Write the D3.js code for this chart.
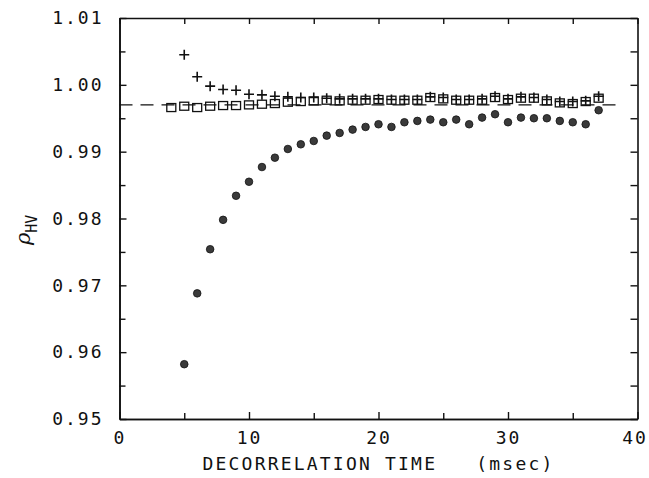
<!DOCTYPE html>
<html>
<head>
<meta charset="utf-8">
<script src="https://cdn.jsdelivr.net/npm/d3@7"></script>
<style>
  body { margin: 0; background: #fff; }
  text { font-family: "DejaVu Sans Mono", monospace; fill: #111; }
  .tick-label { font-size: 18px; letter-spacing: 2px; }
  .axis-title { font-size: 18px; letter-spacing: 2.2px; white-space: pre; }
  .axis path, .axis line { stroke: #111; }
</style>
</head>
<body>
<div id="chart"></div>
<script>
// decorrelation time (msec) for each series
const squareTimes = d3.range(4, 38);
const plusTimes = d3.range(5, 38);
const circleTimes = d3.range(5, 38);

// correlation coefficient values
const squareValues = [
  0.9966, 0.9968, 0.9966, 0.9968, 0.9969, 0.9969, 0.9970, 0.9971, 0.9972, 0.9974,
  0.9975, 0.9976, 0.9977, 0.9976, 0.9977, 0.9977, 0.9978, 0.9977, 0.9977, 0.9977,
  0.9981, 0.9979, 0.9977, 0.9977, 0.9977, 0.9981, 0.9978, 0.9980, 0.9980, 0.9976,
  0.9973, 0.9972, 0.9975, 0.9980
];
const plusValues = [
  1.0045, 1.0012, 0.9998, 0.9993, 0.9992, 0.9986, 0.9985, 0.9983, 0.9982, 0.9981,
  0.9981, 0.9980, 0.9979, 0.9979, 0.9979, 0.9979, 0.9978, 0.9978, 0.9978, 0.9982,
  0.9981, 0.9978, 0.9978, 0.9979, 0.9983, 0.9979, 0.9982, 0.9981, 0.9978, 0.9975,
  0.9975, 0.9976, 0.9983
];
const circleValues = [
  0.9582, 0.9688, 0.9754, 0.9798, 0.9834, 0.9855, 0.9877, 0.9891, 0.9904, 0.9911,
  0.9916, 0.9924, 0.9928, 0.9933, 0.9937, 0.9941, 0.9937, 0.9944, 0.9946, 0.9948,
  0.9944, 0.9948, 0.9941, 0.9951, 0.9956, 0.9944, 0.9951, 0.9950, 0.9950, 0.9946,
  0.9944, 0.9941, 0.9962
];

// dashed reference level
const refLevel = 0.997;
const refSpan = [0, 38.5];

const xMajorTicks = [0, 10, 20, 30, 40];
const xMinorTicks = [5, 15, 25, 35];
const yMajorTicks = [0.95, 0.96, 0.97, 0.98, 0.99, 1.00, 1.01];
const yMinorTicks = [0.955, 0.965, 0.975, 0.985, 0.995, 1.005];

class CorrPlot {
  constructor(_config) {
    this.config = {
      parentElement: _config.parentElement,
      containerWidth: 649,
      containerHeight: 478,
      margin: {top: 18, right: 11.5, bottom: 59, left: 119.5}
    };
    this.initVis();
  }

  initVis() {
    let vis = this;
    vis.width = vis.config.containerWidth - vis.config.margin.left - vis.config.margin.right;
    vis.height = vis.config.containerHeight - vis.config.margin.top - vis.config.margin.bottom;

    vis.xScale = d3.scaleLinear().domain([0, 40]).range([0, vis.width]);
    vis.yScale = d3.scaleLinear().domain([0.95, 1.01]).range([vis.height, 0]);

    vis.svg = d3.select(vis.config.parentElement).append('svg')
        .attr('width', vis.config.containerWidth)
        .attr('height', vis.config.containerHeight);

    vis.chart = vis.svg.append('g')
        .attr('transform', `translate(${vis.config.margin.left},${vis.config.margin.top})`);

    vis.renderAxes();
    vis.renderVis();
  }

  renderAxes() {
    let vis = this;
    const h = vis.height, w = vis.width;

    // ticks point inward on all four sides
    const styleAxis = g => {
      g.attr('class', 'axis');
      g.select('.domain').attr('stroke-width', 1.6);
      g.selectAll('.tick line').attr('stroke-width', 1.4);
      g.selectAll('.tick text').attr('class', 'tick-label');
    };

    vis.chart.append('g').attr('transform', `translate(0,${h})`)
        .call(d3.axisBottom(vis.xScale).tickValues(xMajorTicks).tickSize(-7).tickPadding(12)
          .tickFormat(d3.format('d')).tickSizeOuter(0))
        .call(styleAxis)
        .selectAll('.tick text').filter(d => d === 40).attr('dx', -3);
    vis.chart.append('g').attr('transform', `translate(0,${h})`)
        .call(d3.axisBottom(vis.xScale).tickValues(xMinorTicks).tickSize(-6).tickFormat('').tickSizeOuter(0))
        .call(styleAxis);
    vis.chart.append('g')
        .call(d3.axisTop(vis.xScale).tickValues(xMajorTicks.concat(xMinorTicks)).tickSize(-6).tickFormat('').tickSizeOuter(0))
        .call(styleAxis);

    vis.chart.append('g')
        .call(d3.axisLeft(vis.yScale).tickValues(yMajorTicks).tickSize(-7).tickPadding(16)
          .tickFormat(d3.format('.2f')).tickSizeOuter(0))
        .call(styleAxis);
    vis.chart.append('g')
        .call(d3.axisLeft(vis.yScale).tickValues(yMinorTicks).tickSize(-6).tickFormat('').tickSizeOuter(0))
        .call(styleAxis);
    vis.chart.append('g').attr('transform', `translate(${w},0)`)
        .call(d3.axisRight(vis.yScale).tickValues(yMajorTicks.concat(yMinorTicks)).tickSize(-7).tickFormat('').tickSizeOuter(0))
        .call(styleAxis);

    vis.chart.selectAll('.tick-label').attr('font-size', 18);

    // x axis title
    vis.chart.append('text')
        .attr('class', 'axis-title')
        .attr('x', w / 2)
        .attr('y', h + 51)
        .attr('text-anchor', 'middle')
        .text('DECORRELATION TIME   (msec)');

    // y axis title: italic rho with HV subscript
    const yt = vis.svg.append('text')
        .attr('transform', `translate(30,${vis.config.margin.top + vis.yScale(0.9783)}) rotate(-90)`)
        .attr('text-anchor', 'middle');
    yt.append('tspan')
        .style('font-family', '"DejaVu Serif", serif')
        .style('font-style', 'italic')
        .attr('font-size', 21)
        .text('ρ');
    yt.append('tspan')
        .attr('font-size', 15)
        .attr('dy', 7)
        .text('HV');
  }

  renderVis() {
    let vis = this;
    const x = vis.xScale, y = vis.yScale;

    vis.chart.append('line')
        .attr('x1', x(refSpan[0])).attr('x2', x(refSpan[1]))
        .attr('y1', y(refLevel)).attr('y2', y(refLevel))
        .attr('stroke', '#111').attr('stroke-width', 1.3)
        .attr('stroke-dasharray', '13,8');

    const squares = squareTimes.map((t, i) => [t, squareValues[i]]);
    const pluses = plusTimes.map((t, i) => [t, plusValues[i]]);
    const circles = circleTimes.map((t, i) => [t, circleValues[i]]);

    vis.chart.selectAll('.sq')
        .data(squares)
      .join('rect')
        .attr('class', 'sq')
        .attr('x', d => x(d[0]) - 4.5)
        .attr('y', d => y(d[1]) - 4)
        .attr('width', 9)
        .attr('height', 8)
        .attr('fill', 'none')
        .attr('stroke', '#111')
        .attr('stroke-width', 1.3);

    vis.chart.selectAll('.plus')
        .data(pluses)
      .join('path')
        .attr('class', 'plus')
        .attr('d', d => `M${x(d[0]) - 5},${y(d[1])}h10M${x(d[0])},${y(d[1]) - 5}v10`)
        .attr('stroke', '#111')
        .attr('stroke-width', 1.6);

    vis.chart.selectAll('.dot')
        .data(circles)
      .join('circle')
        .attr('class', 'dot')
        .attr('cx', d => x(d[0]))
        .attr('cy', d => y(d[1]))
        .attr('r', 3.8)
        .attr('fill', '#3a3a3a')
        .attr('stroke', '#111')
        .attr('stroke-width', 0.8);
  }
}

new CorrPlot({parentElement: '#chart'});
</script>
</body>
</html>
